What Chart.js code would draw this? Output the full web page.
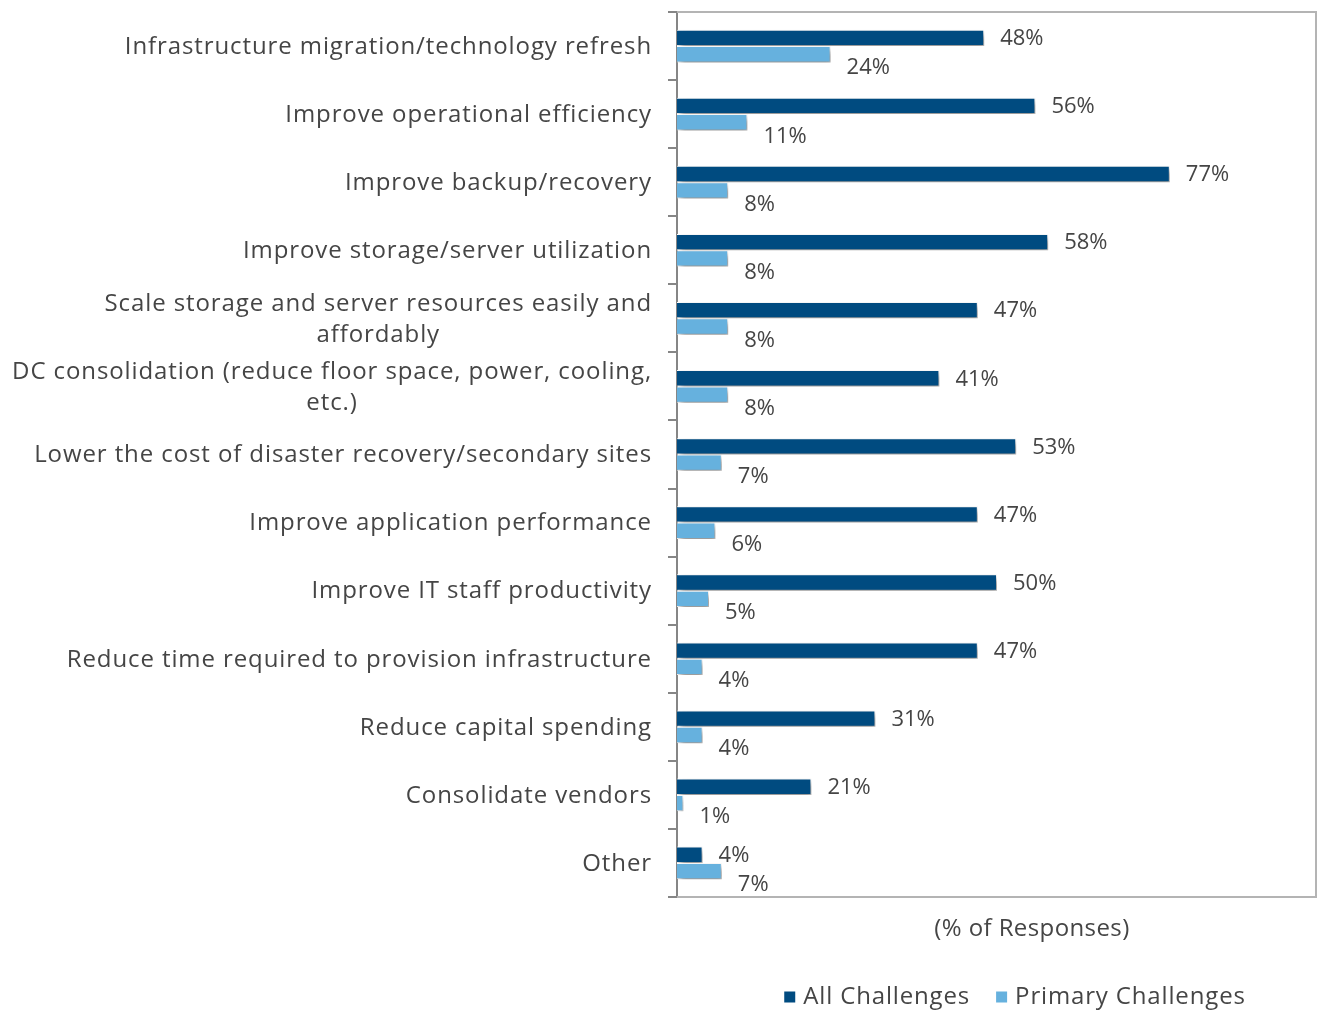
<!DOCTYPE html>
<html>
<head>
<meta charset="utf-8">
<script src="https://cdn.jsdelivr.net/npm/chart.js@4/dist/chart.umd.min.js"></script>
<style>
  html, body { margin: 0; padding: 0; background: #ffffff; }
  #wrap { width: 1325px; height: 1011px; }
</style>
</head>
<body>
<div id="wrap"><canvas id="chart" width="1325" height="1011"></canvas></div>
<script>
// Goals behind infrastructure projects, share of responses
const categories = [
  ['Infrastructure migration/technology refresh'],
  ['Improve operational efficiency'],
  ['Improve backup/recovery'],
  ['Improve storage/server utilization'],
  ['Scale storage and server resources easily and', 'affordably'],
  ['DC consolidation (reduce floor space, power, cooling,', 'etc.)'],
  ['Lower the cost of disaster recovery/secondary sites'],
  ['Improve application performance'],
  ['Improve IT staff productivity'],
  ['Reduce time required to provision infrastructure'],
  ['Reduce capital spending'],
  ['Consolidate vendors'],
  ['Other']
];
const allChallenges = [48, 56, 77, 58, 47, 41, 53, 47, 50, 47, 31, 21, 4];
const primaryChallenges = [24, 11, 8, 8, 8, 8, 7, 6, 5, 4, 4, 1, 7];
const seriesNames = ['All Challenges', 'Primary Challenges'];
const axisTitle = '(% of Responses)';

const FONT = '"Open Sans", sans-serif';
const TEXT = '#454545';
const DARK = '#004b80';
const LIGHT = '#66b1de';

// soft drop shadow under the bars
const barShadow = {
  id: 'barShadow',
  beforeDatasetsDraw(chart) {
    const ctx = chart.ctx;
    ctx.save();
    ctx.shadowColor = 'rgba(0,0,0,0.45)';
    ctx.shadowBlur = 6;
    ctx.shadowOffsetX = 3;
    ctx.shadowOffsetY = 4;
  },
  afterDatasetsDraw(chart) {
    chart.ctx.restore();
  }
};

// percentage labels beside each bar
const valueLabels = {
  id: 'valueLabels',
  afterDatasetsDraw(chart) {
    const ctx = chart.ctx;
    ctx.save();
    ctx.font = '22px ' + FONT;
    ctx.fillStyle = TEXT;
    ctx.textAlign = 'left';
    ctx.textBaseline = 'middle';
    chart.data.datasets.forEach((ds, di) => {
      const meta = chart.getDatasetMeta(di);
      meta.data.forEach((bar, i) => {
        const dy = di === 1 ? 13 : 0;
        ctx.fillText(ds.data[i] + '%', bar.x + 16, bar.y + dy + 1);
      });
    });
    ctx.restore();
  }
};

// category names, right aligned, wrapped lines centred on each other
const categoryLabels = {
  id: 'categoryLabels',
  afterDraw(chart) {
    const ctx = chart.ctx;
    const y = chart.scales.y;
    const right = chart.chartArea.left - 25;
    const lh = 31;
    ctx.save();
    ctx.font = '24px ' + FONT;
    ctx.letterSpacing = '0.9px';
    ctx.fillStyle = TEXT;
    ctx.textAlign = 'left';
    ctx.textBaseline = 'middle';
    categories.forEach((lines, i) => {
      const cy = y.getPixelForValue(i) + 1;
      const ws = lines.map(l => ctx.measureText(l).width);
      const w = Math.max(...ws);
      const cx = right - w / 2;
      const top = cy - (lines.length - 1) * lh / 2;
      lines.forEach((l, k) => ctx.fillText(l, cx - ws[k] / 2, top + k * lh));
    });
    ctx.restore();
  }
};

// frame, axis title and legend
const frameAndLegend = {
  id: 'frameAndLegend',
  afterDraw(chart) {
    const ctx = chart.ctx;
    const a = chart.chartArea;
    ctx.save();
    ctx.strokeStyle = '#b4b4b4';
    ctx.lineWidth = 2;
    ctx.beginPath();
    ctx.moveTo(a.left, a.top);
    ctx.lineTo(a.right - 1, a.top);
    ctx.lineTo(a.right - 1, a.bottom);
    ctx.lineTo(a.left, a.bottom);
    ctx.stroke();

    ctx.font = '24px ' + FONT;
    ctx.letterSpacing = '0.4px';
    ctx.fillStyle = TEXT;
    ctx.textBaseline = 'middle';
    ctx.textAlign = 'left';
    const tw = ctx.measureText(axisTitle).width;
    ctx.fillText(axisTitle, 1032 - tw / 2, a.bottom + 32);

    // legend
    ctx.letterSpacing = '0.85px';
    const colors = [DARK, LIGHT];
    const box = 11, gap = 8, spacing = 26;
    const widths = seriesNames.map(n => box + gap + ctx.measureText(n).width);
    const total = widths.reduce((s, w) => s + w, 0) + spacing;
    let x = 1015 - total / 2;
    const ly = a.bottom + 100;
    seriesNames.forEach((n, i) => {
      ctx.fillStyle = colors[i];
      ctx.fillRect(x, ly - box / 2, box, box);
      ctx.fillStyle = TEXT;
      ctx.fillText(n, x + box + gap, ly);
      x += widths[i] + spacing;
    });
    ctx.restore();
  }
};

new Chart(document.getElementById('chart'), {
  type: 'bar',
  data: {
    labels: categories,
    datasets: [
      { label: seriesNames[0], data: allChallenges, backgroundColor: DARK, borderColor: '#ffffff', borderWidth: 1 },
      { label: seriesNames[1], data: primaryChallenges, backgroundColor: LIGHT, borderColor: '#ffffff', borderWidth: 1 }
    ]
  },
  options: {
    indexAxis: 'y',
    responsive: false,
    animation: false,
    devicePixelRatio: 1,
    layout: { padding: { left: 0, top: 12, right: 8, bottom: 114 } },
    datasets: { bar: { categoryPercentage: 0.48, barPercentage: 1.0 } },
    plugins: {
      legend: { display: false },
      tooltip: { enabled: false },
      title: { display: false }
    },
    scales: {
      x: { display: false, min: 0, max: 100 },
      y: {
        display: true,
        ticks: { display: false },
        grid: { offset: true, drawOnChartArea: false, drawTicks: true, tickLength: 9, color: '#868686', lineWidth: 2 },
        border: { display: true, color: '#868686', width: 2 },
        afterFit(scale) { scale.width = 677; }
      }
    }
  },
  plugins: [barShadow, valueLabels, categoryLabels, frameAndLegend]
});
</script>
</body>
</html>
